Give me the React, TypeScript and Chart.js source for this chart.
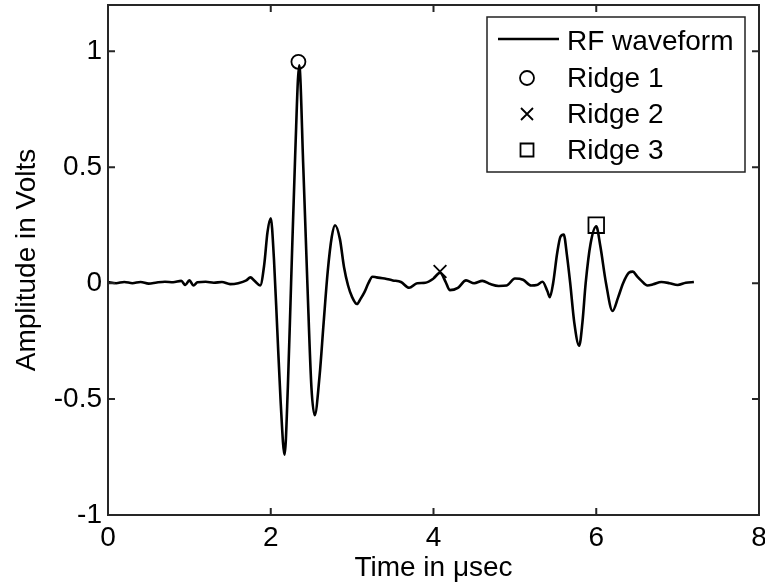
import React, { useEffect, useRef } from "react";
import { Chart, registerables } from "chart.js";

Chart.register(...registerables);

// ---- data ----
const timeUs = [
  0, 0.1, 0.2, 0.3, 0.4, 0.5, 0.6, 0.7, 0.8, 0.9, 0.95, 1.0, 1.05, 1.1, 1.2, 1.3, 1.4, 1.5, 1.6, 1.7,
  1.75, 1.8, 1.87, 1.92, 1.96, 2.0, 2.04, 2.08, 2.12, 2.17, 2.21, 2.25, 2.3, 2.35, 2.4, 2.45, 2.5,
  2.54, 2.6, 2.65, 2.7, 2.75, 2.79, 2.85, 2.9, 2.95, 3.0, 3.06, 3.1, 3.15, 3.2, 3.25, 3.3, 3.4, 3.5,
  3.6, 3.7, 3.8, 3.9, 4.0, 4.08, 4.15, 4.2, 4.3, 4.4, 4.5, 4.6, 4.7, 4.8, 4.9, 5.0, 5.1, 5.2, 5.27,
  5.34, 5.4, 5.43, 5.47, 5.52, 5.56, 5.6, 5.64, 5.68, 5.73, 5.79, 5.83, 5.87, 5.93, 6.0, 6.05, 6.12,
  6.2, 6.27, 6.33, 6.4, 6.45, 6.5, 6.55, 6.63, 6.7, 6.8, 6.9, 7.0, 7.1, 7.2,
];
const amplitudeV = [
  0.005, 0.0, 0.005, 0.0, 0.005, -0.002, 0.003, 0.006, 0.004, 0.01, -0.008, 0.012, -0.01, 0.004,
  0.006, 0.002, 0.005, -0.004, 0.0, 0.012, 0.025, 0.01, -0.01, 0.08, 0.22, 0.28, 0.1, -0.2, -0.5,
  -0.74, -0.45, 0.0, 0.55, 0.94, 0.5, 0.0, -0.45, -0.57, -0.4, -0.17, 0.05, 0.2, 0.25, 0.19, 0.07,
  -0.01, -0.06, -0.09, -0.07, -0.04, 0.0, 0.028, 0.025, 0.02, 0.012, 0.005, -0.02, 0.0, 0.002, 0.02,
  0.045, 0.005, -0.03, -0.02, 0.012, 0.0, 0.01, -0.004, -0.012, -0.01, 0.02, 0.015, -0.01, -0.008,
  0.006, -0.035, -0.06, 0.0, 0.13, 0.2, 0.21, 0.12, 0.0, -0.17, -0.27, -0.17, 0.0, 0.17, 0.245, 0.16,
  0.0, -0.12, -0.06, 0.0, 0.045, 0.05, 0.03, 0.012, -0.01, -0.005, 0.005, 0.0, -0.008, 0.002, 0.005,
];
const ridge1T = [2.34];
const ridge1V = [0.955];
const ridge2T = [4.08];
const ridge2V = [0.05];
const ridge3T = [6.0];
const ridge3V = [0.25];

const xTicks = [0, 2, 4, 6, 8];
const yTicks = [-1, -0.5, 0, 0.5, 1];
const seriesLabels = ["RF waveform", "Ridge 1", "Ridge 2", "Ridge 3"];

const FONT = "Arial, 'Liberation Sans', sans-serif";
const FS = 28;

const pts = (t: number[], v: number[]) => t.map((x, i) => ({ x, y: v[i] }));

function drawMarker(ctx: CanvasRenderingContext2D, style: string, x: number, y: number, r: number) {
  ctx.beginPath();
  if (style === "circle") {
    ctx.arc(x, y, r, 0, Math.PI * 2);
  } else if (style === "crossRot") {
    ctx.moveTo(x - r, y - r);
    ctx.lineTo(x + r, y + r);
    ctx.moveTo(x + r, y - r);
    ctx.lineTo(x - r, y + r);
  } else if (style === "rect") {
    ctx.rect(x - r, y - r, 2 * r, 2 * r);
  }
  ctx.stroke();
}

const framePlugin = {
  id: "matlabFrame",
  afterDatasetsDraw(chart: any) {
    const { ctx, chartArea } = chart;
    const { left, right, top, bottom } = chartArea;
    const xs = chart.scales.x;
    const ys = chart.scales.y;
    ctx.save();
    ctx.strokeStyle = "#262626";
    ctx.lineWidth = 2;
    ctx.strokeRect(left, top, right - left, bottom - top);
    const tl = 7;
    ctx.beginPath();
    xTicks.forEach((v) => {
      const px = xs.getPixelForValue(v);
      ctx.moveTo(px, bottom);
      ctx.lineTo(px, bottom - tl);
      ctx.moveTo(px, top);
      ctx.lineTo(px, top + tl);
    });
    yTicks.forEach((v) => {
      const py = ys.getPixelForValue(v);
      ctx.moveTo(left, py);
      ctx.lineTo(left + tl, py);
      ctx.moveTo(right, py);
      ctx.lineTo(right - tl, py);
    });
    ctx.stroke();

    // legend
    const bw = 258, bh = 155;
    const bx = right - 14 - bw;
    const by = top + 12;
    ctx.fillStyle = "#ffffff";
    ctx.fillRect(bx, by, bw, bh);
    ctx.lineWidth = 1.5;
    ctx.strokeStyle = "#222";
    ctx.strokeRect(bx, by, bw, bh);
    const rows = [by + 24, by + 61, by + 97, by + 133];
    const symX = bx + 40;
    const textX = bx + 80;
    ctx.font = `${FS}px ${FONT}`;
    ctx.textBaseline = "middle";
    ctx.textAlign = "left";
    chart.data.datasets.forEach((ds: any, i: number) => {
      const y = rows[i];
      ctx.strokeStyle = "#000";
      if (i === 0) {
        ctx.lineWidth = 2.5;
        ctx.beginPath();
        ctx.moveTo(bx + 11, y - 2);
        ctx.lineTo(bx + 72, y - 2);
        ctx.stroke();
      } else {
        ctx.lineWidth = 1.8;
        const r = ds.pointStyle === "circle" ? 7 : ds.pointStyle === "rect" ? 6.5 : 6;
        drawMarker(ctx, ds.pointStyle, symX, y, r);
      }
      ctx.fillStyle = "#000";
      ctx.fillText(ds.label, textX, y + 1);
    });
    ctx.restore();
  },
};

export default function App() {
  const ref = useRef<HTMLCanvasElement | null>(null);
  useEffect(() => {
    document.body.style.margin = "0";
    const canvas = ref.current!;
    const chart = new Chart(canvas, {
      type: "line",
      data: {
        datasets: [
          {
            label: seriesLabels[0],
            data: pts(timeUs, amplitudeV),
            borderColor: "#000",
            borderWidth: 2.6,
            pointRadius: 0,
            cubicInterpolationMode: "monotone",
            fill: false,
          } as any,
          {
            type: "scatter",
            label: seriesLabels[1],
            data: pts(ridge1T, ridge1V),
            pointStyle: "circle",
            pointRadius: 7,
            borderColor: "#000",
            backgroundColor: "rgba(0,0,0,0)",
            borderWidth: 1.8,
            showLine: false,
          } as any,
          {
            type: "scatter",
            label: seriesLabels[2],
            data: pts(ridge2T, ridge2V),
            pointStyle: "crossRot",
            pointRadius: 9,
            borderColor: "#000",
            backgroundColor: "rgba(0,0,0,0)",
            borderWidth: 1.8,
            showLine: false,
          } as any,
          {
            type: "scatter",
            label: seriesLabels[3],
            data: pts(ridge3T, ridge3V),
            pointStyle: "rect",
            pointRadius: 11,
            borderColor: "#000",
            backgroundColor: "rgba(0,0,0,0)",
            borderWidth: 1.8,
            showLine: false,
          } as any,
        ],
      },
      options: {
        animation: false,
        responsive: false,
        maintainAspectRatio: false,
        layout: { autoPadding: false, padding: { top: 5, right: 6, left: 0, bottom: 0 } },
        plugins: { legend: { display: false }, tooltip: { enabled: false } },
        scales: {
          x: {
            type: "linear",
            min: 0,
            max: 8,
            afterBuildTicks: (s: any) => {
              s.ticks = xTicks.map((value) => ({ value }));
            },
            afterFit: (s: any) => {
              s.height = 70;
              s.paddingLeft = 0;
              s.paddingRight = 0;
            },
            grid: { display: false, drawTicks: false },
            border: { display: false },
            ticks: {
              color: "#000",
              font: { family: FONT, size: FS },
              padding: 6,
              maxRotation: 0,
              autoSkip: false,
              callback: (v: any) => String(v),
            },
            title: {
              display: true,
              text: "Time in μsec",
              color: "#000",
              font: { family: FONT, size: FS },
              padding: { top: 4, bottom: 0 },
            },
          },
          y: {
            type: "linear",
            min: -1,
            max: 1.2,
            afterBuildTicks: (s: any) => {
              s.ticks = yTicks.map((value) => ({ value }));
            },
            afterFit: (s: any) => {
              s.width = 108;
              s.paddingTop = 0;
              s.paddingBottom = 0;
            },
            grid: { display: false, drawTicks: false },
            border: { display: false },
            ticks: {
              color: "#000",
              font: { family: FONT, size: FS },
              padding: 6,
              autoSkip: false,
              callback: (v: any) => String(v),
            },
            title: {
              display: true,
              text: "Amplitude in Volts",
              color: "#000",
              font: { family: FONT, size: FS },
              padding: { top: 10, bottom: 0 },
            },
          },
        },
      },
      plugins: [framePlugin],
    });
    return () => chart.destroy();
  }, []);
  return (
    <div style={{ width: 765, height: 585 }}>
      <canvas ref={ref} width={765} height={585} style={{ display: "block", width: 765, height: 585 }} />
    </div>
  );
}
